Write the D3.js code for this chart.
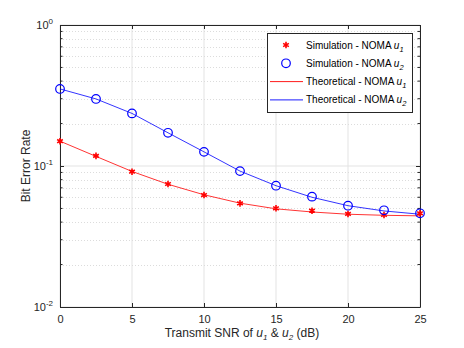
<!DOCTYPE html>
<html>
<head>
<meta charset="utf-8">
<script src="https://cdn.jsdelivr.net/npm/d3@7"></script>
<style>
  body { margin: 0; background: #fff; }
  svg { font-family: "Liberation Sans", Arial, sans-serif; }
</style>
</head>
<body>
<svg></svg>
<script>
// SNR points (dB)
const snr = [0, 2.5, 5, 7.5, 10, 12.5, 15, 17.5, 20, 22.5, 25];
// simulated BER
const simU1 = [0.150, 0.118, 0.0911, 0.0745, 0.0622, 0.0543, 0.0501, 0.0482, 0.0457, 0.0449, 0.0462];
const simU2 = [0.352, 0.299, 0.236, 0.172, 0.126, 0.092, 0.0725, 0.0606, 0.0523, 0.0485, 0.0462];
// theoretical BER
const theoU1 = [0.150, 0.117, 0.0915, 0.0742, 0.0625, 0.0545, 0.0497, 0.0472, 0.0455, 0.0447, 0.0443];
const theoU2 = [0.352, 0.299, 0.236, 0.172, 0.126, 0.092, 0.0725, 0.0600, 0.0523, 0.0480, 0.0455];
const xTicks = [0, 5, 10, 15, 20, 25];
const yDecades = [-2, -1, 0];

const width = 464, height = 348;
const m = { left: 60, right: 44, top: 25, bottom: 41 };
const axisColor = '#262626';

const svg = d3.select('svg').attr('width', width).attr('height', height);

const x = d3.scaleLinear().domain([0, 25]).range([m.left, width - m.right]);
const y = d3.scaleLog().domain([0.01, 1]).range([height - m.bottom, m.top]);

// grid
const minor = [];
[0.01, 0.1].forEach(d => { for (let k = 2; k <= 9; k++) minor.push(d * k); });

const grid = svg.append('g');
grid.selectAll('.vg').data(xTicks).enter().append('line')
  .attr('x1', d => x(d)).attr('x2', d => x(d))
  .attr('y1', y(1)).attr('y2', y(0.01))
  .attr('stroke', '#e3e3e3').attr('stroke-width', 1);
grid.selectAll('.hg').data(yDecades.map(e => Math.pow(10, e))).enter().append('line')
  .attr('x1', x(0)).attr('x2', x(25))
  .attr('y1', d => y(d)).attr('y2', d => y(d))
  .attr('stroke', '#e3e3e3').attr('stroke-width', 1);
grid.selectAll('.mg').data(minor).enter().append('line')
  .attr('x1', x(0)).attr('x2', x(25))
  .attr('y1', d => Math.round(y(d)) + 0.5).attr('y2', d => Math.round(y(d)) + 0.5)
  .attr('stroke', '#dcdcdc').attr('stroke-width', 1).attr('stroke-dasharray', '1,2');

// axes (MATLAB-style box, ticks inside)
const xAxB = d3.axisBottom(x).tickValues(xTicks).tickSizeInner(-4).tickSizeOuter(0).tickPadding(8);
const xAxT = d3.axisTop(x).tickValues(xTicks).tickSizeInner(-4).tickSizeOuter(0).tickFormat('');
const yAxL = d3.axisLeft(y).tickValues(yDecades.map(e => Math.pow(10, e))).tickSizeInner(-4).tickSizeOuter(0).tickFormat('');
const yAxR = d3.axisRight(y).tickValues(yDecades.map(e => Math.pow(10, e))).tickSizeInner(-4).tickSizeOuter(0).tickFormat('');

function style(g) {
  g.select('.domain').attr('stroke', axisColor);
  g.selectAll('.tick line').attr('stroke', axisColor);
  g.selectAll('.tick text').attr('fill', axisColor).style('font-size', '11px')
    .style('font-family', '"Liberation Sans", Arial, sans-serif');
}
svg.append('g').attr('transform', `translate(0,${y(0.01)})`).call(xAxB).call(style);
svg.append('g').attr('transform', `translate(0,${y(1)})`).call(xAxT).call(style);
svg.append('g').attr('transform', `translate(${x(0)},0)`).call(yAxL).call(style);
svg.append('g').attr('transform', `translate(${x(25)},0)`).call(yAxR).call(style);

// minor y ticks
[x(0), x(25)].forEach((px, i) => {
  svg.append('g').selectAll('line').data(minor).enter().append('line')
    .attr('x1', px).attr('x2', i === 0 ? px + 2.5 : px - 2.5)
    .attr('y1', d => y(d)).attr('y2', d => y(d))
    .attr('stroke', axisColor);
});

// y tick labels 10^n
const yl = svg.append('g').attr('fill', axisColor);
yDecades.forEach(e => {
  const t = yl.append('text').attr('x', x(0) - 7).attr('y', y(Math.pow(10, e)) + 4)
    .attr('text-anchor', 'end').style('font-size', '11px');
  t.append('tspan').text('10');
  t.append('tspan').attr('dy', -5).style('font-size', '8px').text(e);
});

// theory lines
const line = (arr) => d3.line().x((d, i) => x(snr[i])).y(d => y(d))(arr);
svg.append('path').attr('d', line(theoU1)).attr('fill', 'none').attr('stroke', '#ff0000').attr('stroke-width', 0.8);
svg.append('path').attr('d', line(theoU2)).attr('fill', 'none').attr('stroke', '#0000ff').attr('stroke-width', 0.8);

// markers
const star = d3.symbol().type(d3.symbolAsterisk).size(30);
function drawStar(g, cx, cy) {
  g.append('path').attr('d', star()).attr('transform', `translate(${cx},${cy})`)
    .attr('stroke', '#ff0000').attr('stroke-width', 1.6).attr('fill', 'none');
}
const stars = svg.append('g');
simU1.forEach((v, i) => drawStar(stars, x(snr[i]), y(v)));
svg.append('g').selectAll('circle').data(simU2).enter().append('circle')
  .attr('cx', (d, i) => x(snr[i])).attr('cy', d => y(d)).attr('r', 4.3)
  .attr('fill', 'none').attr('stroke', '#0000ff').attr('stroke-width', 1.2);

// legend
const lg = svg.append('g');
lg.append('rect').attr('x', 267.5).attr('y', 33.5).attr('width', 145).attr('height', 79)
  .attr('fill', '#fff').attr('stroke', axisColor).attr('stroke-width', 1);
const items = [
  { label: 'Simulation - NOMA ', sub: '1', kind: 'star' },
  { label: 'Simulation - NOMA ', sub: '2', kind: 'circle' },
  { label: 'Theoretical - NOMA ', sub: '1', kind: 'lr' },
  { label: 'Theoretical - NOMA ', sub: '2', kind: 'lb' }
];
items.forEach((it, i) => {
  const cy = 45 + i * 18.3;
  if (it.kind === 'star') drawStar(lg, 286, cy);
  if (it.kind === 'circle') lg.append('circle').attr('cx', 286).attr('cy', cy).attr('r', 4.3)
    .attr('fill', 'none').attr('stroke', '#0000ff').attr('stroke-width', 1.2);
  if (it.kind === 'lr' || it.kind === 'lb') lg.append('line').attr('x1', 270).attr('x2', 303)
    .attr('y1', cy).attr('y2', cy).attr('stroke', it.kind === 'lr' ? '#ff0000' : '#0000ff').attr('stroke-width', 0.9);
  const t = lg.append('text').attr('x', 306).attr('y', cy + 3.5).attr('fill', '#000').style('font-size', '10px');
  t.append('tspan').text(it.label);
  t.append('tspan').style('font-style', 'italic').text('u');
  t.append('tspan').attr('dy', 3).style('font-size', '7.5px').style('font-style', 'italic').text(it.sub);
});

// axis labels
const xl = svg.append('text').attr('x', (x(0) + x(25)) / 2 + 2).attr('y', 337)
  .attr('text-anchor', 'middle').attr('fill', axisColor).style('font-size', '12px');
xl.append('tspan').text('Transmit SNR of ');
xl.append('tspan').style('font-style', 'italic').text('u');
xl.append('tspan').attr('dy', 3).style('font-size', '8px').style('font-style', 'italic').text('1');
xl.append('tspan').attr('dy', -3).text(' & ');
xl.append('tspan').style('font-style', 'italic').text('u');
xl.append('tspan').attr('dy', 3).style('font-size', '8px').style('font-style', 'italic').text('2');
xl.append('tspan').attr('dy', -3).text(' (dB)');

svg.append('text').attr('transform', `translate(30,${(y(1) + y(0.01)) / 2}) rotate(-90)`)
  .attr('text-anchor', 'middle').attr('fill', axisColor).style('font-size', '12px').text('Bit Error Rate');
</script>
</body>
</html>
